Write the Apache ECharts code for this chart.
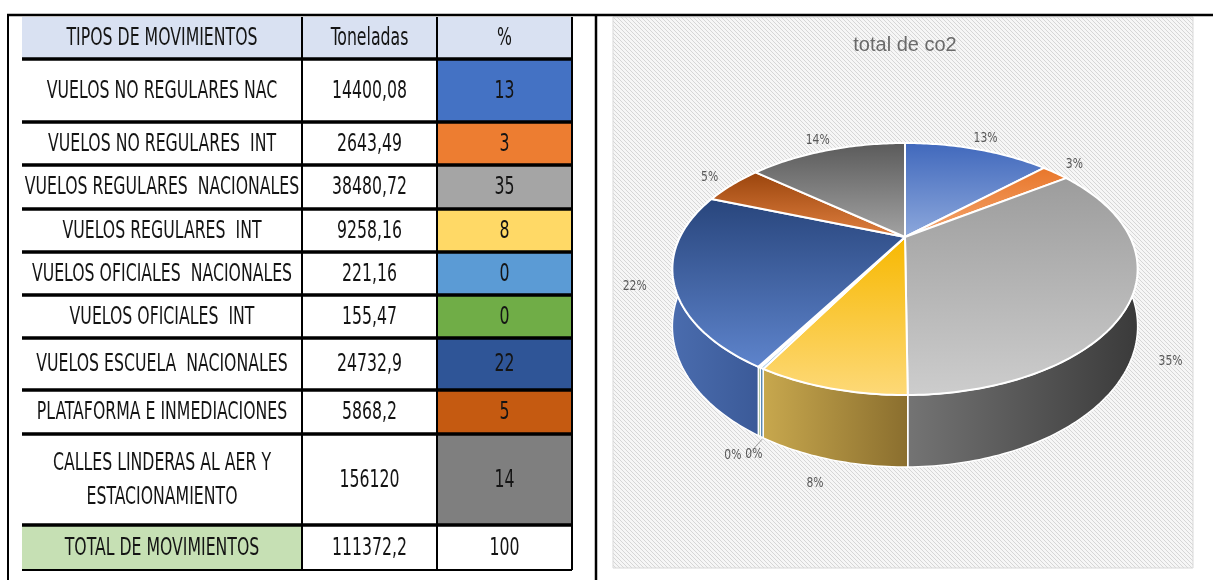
<!DOCTYPE html>
<html><head><meta charset="utf-8">
<script src="https://cdn.jsdelivr.net/npm/echarts@6/dist/echarts.min.js"></script>
<style>html,body{margin:0;padding:0;background:#fff}#c{width:1213px;height:580px}</style>
</head><body><div id="c"></div>
<script>
// ---------------- data ----------------
const headers = ['TIPOS DE MOVIMIENTOS', 'Toneladas', '%'];
const categories = [
  'VUELOS NO REGULARES NAC',
  'VUELOS NO REGULARES  INT',
  'VUELOS REGULARES  NACIONALES',
  'VUELOS REGULARES  INT',
  'VUELOS OFICIALES  NACIONALES',
  'VUELOS OFICIALES  INT',
  'VUELOS ESCUELA  NACIONALES',
  'PLATAFORMA E INMEDIACIONES',
  'CALLES LINDERAS AL AER Y\nESTACIONAMIENTO'
];
// tonnage as printed in the table
const tonnageText = ['14400,08', '2643,49', '38480,72', '9258,16', '221,16', '155,47', '24732,9', '5868,2', '156120'];
// tonnage values drawn in the pie (last one = 15612,0 so that the total is 111372,2 and the slice is 14%)
const tonnes = [14400.08, 2643.49, 38480.72, 9258.16, 221.16, 155.47, 24732.9, 5868.2, 15612.02];
// "%" column (also the pie labels)
const percents = [13, 3, 35, 8, 0, 0, 22, 5, 14];
const totalRow = ['TOTAL DE MOVIMIENTOS', '111372,2', '100'];
const chartTitle = 'total de co2';

// ---------------- styles / layout ----------------
const cellColors = ['#4472C4', '#ED7D31', '#A5A5A5', '#FFD966', '#5B9BD5', '#70AD47', '#2F5597', '#C55A11', '#7F7F7F'];
const faceGrad = [
  ['#4068BC', '#8DA8DC'], ['#E8762A', '#F4A56E'], ['#9C9C9C', '#CDCDCD'], ['#F7B800', '#FDD978'],
  ['#5B9BD5', '#8DBBE4'], ['#70AD47', '#9BC77E'], ['#28457C', '#5E84CC'], ['#9A440C', '#E08040'], ['#5A5A5A', '#A3A3A3']
];
const wallGrad = [
  ['#3A62A8', '#2E4E88'], ['#C8682A', '#A0521E'], ['#747474', '#3A3A3A'], ['#C8A84E', '#8A6E2E'],
  ['#4E86B8', '#3E6F9C'], ['#5E913C', '#4B7630'], ['#4A6CAE', '#3B5A98'], ['#8A3C0A', '#6E3008'], ['#505050', '#3A3A3A']
];
const NARROW = "'Liberation Sans Narrow','DejaVu Sans Condensed','Arial Narrow',sans-serif";
const TBL = { cols: [22, 302, 437, 572], rows: [17, 59, 122, 165, 209, 252, 295, 338, 390, 434, 525, 570] };
const PIE = { cx: 905, cy: 237, B: 225, A: 117.9, k: 0.254, depth: 53.7 };

const tableRows = [headers].concat(categories.map((c, i) => [c, tonnageText[i], String(percents[i])]), [totalRow]);

// ---------------- table ----------------
function renderTableRow(params, api) {
  const r = params.dataIndex, row = tableRows[r];
  const y0 = TBL.rows[r], y1 = TBL.rows[r + 1];
  const last = r === tableRows.length - 1;
  const children = [];
  for (let c = 0; c < 3; c++) {
    const x0 = TBL.cols[c], x1 = TBL.cols[c + 1];
    let fill = '#ffffff';
    if (r === 0) fill = '#D9E1F2';
    else if (last) fill = c === 0 ? '#C6E0B4' : '#ffffff';
    else if (c === 2) fill = cellColors[r - 1];
    children.push({ type: 'rect', shape: { x: x0, y: y0, width: x1 - x0, height: y1 - y0 }, style: { fill: fill }, z2: 1 });
    children.push({
      type: 'text', x: (x0 + x1) / 2, y: (y0 + y1) / 2 + 1, scaleX: 0.92, scaleY: 1.3, z2: 5,
      style: { text: row[c], fill: '#141414', fontSize: 19, fontFamily: NARROW, align: 'center', verticalAlign: 'middle', lineHeight: 26 }
    });
  }
  children.push({ type: 'line', shape: { x1: TBL.cols[0], y1: y1, x2: TBL.cols[3], y2: y1 }, style: { stroke: '#000', lineWidth: last ? 2 : 3.5 }, z2: 8 });
  for (let c = 1; c < 4; c++) {
    children.push({ type: 'line', shape: { x1: TBL.cols[c], y1: y0, x2: TBL.cols[c], y2: y1 }, style: { stroke: '#000', lineWidth: 2 }, z2: 7 });
  }
  return { type: 'group', children: children };
}

// ---------------- pseudo-3D pie ----------------
const total = tonnes.reduce((a, b) => a + b, 0);
const cum = []; { let acc = 0; tonnes.forEach(v => { cum.push(acc); acc += v; }); }
const ang = v => v / total * 2 * Math.PI;
function proj(t, r) {
  const u = r * Math.sin(t), v = -r * Math.cos(t), d = 1 - PIE.k * v;
  return { x: PIE.cx + PIE.B * u / d, y: PIE.cy + PIE.A * v / d, v: v, d: d };
}
function arcPts(t0, t1, drop) {
  const n = Math.max(2, Math.ceil((t1 - t0) / (Math.PI / 180)) + 1), pts = [];
  for (let i = 0; i < n; i++) {
    const p = proj(t0 + (t1 - t0) * i / (n - 1), 1);
    pts.push([p.x, p.y + (drop ? PIE.depth / p.d : 0)]);
  }
  return pts;
}
// label layout computed from the geometry
const labelPos = [];
tonnes.forEach((v, i) => {
  const tm = ang(cum[i] + v / 2);
  const p = proj(tm, 1.15);
  let y = p.y;
  if (p.v / 1.15 > 0.4) y += 0.85 * PIE.depth / p.d;
  let x = p.x, shifted = false;
  const w = (String(percents[i]).length + 1) * 8;
  for (const q of labelPos) {
    if (Math.abs(q.y - y) < 12 && Math.abs(q.x - x) < (q.w + w) / 2 + 4) { x = q.x + (q.w + w) / 2 + 5; shifted = true; }
  }
  labelPos.push({ x: x, y: y, w: w, shifted: shifted, edge: proj(tm, 1.0) });
});

function renderSlice(params, api) {
  const i = params.dataIndex;
  const t0 = ang(cum[i]), t1 = ang(cum[i] + tonnes[i]);
  const children = [];
  const apex = proj(0, 0);
  const face = [[apex.x, apex.y]].concat(arcPts(t0, t1, false));
  children.push({
    type: 'polygon', shape: { points: face }, z2: 10,
    style: { fill: { type: 'linear', x: 0, y: 0, x2: 0, y2: 1, colorStops: [{ offset: 0, color: faceGrad[i][0] }, { offset: 1, color: faceGrad[i][1] }] },
      stroke: '#ffffff', lineWidth: 2, lineJoin: 'round' }
  });
  const w0 = Math.max(t0, Math.PI / 2), w1 = Math.min(t1, 3 * Math.PI / 2);
  if (w1 > w0) {
    const wall = arcPts(w0, w1, false).concat(arcPts(w0, w1, true).reverse());
    children.push({
      type: 'polygon', shape: { points: wall }, z2: 3,
      style: { fill: { type: 'linear', x: 0, y: 0, x2: 1, y2: 0, colorStops: [{ offset: 0, color: wallGrad[i][0] }, { offset: 1, color: wallGrad[i][1] }] },
        stroke: '#ffffff', lineWidth: 1.5, lineJoin: 'round' }
    });
  }
  const L = labelPos[i];
  children.push({
    type: 'text', x: L.x, y: L.y, z2: 20, scaleY: 1.15,
    style: { text: percents[i] + '%', fill: '#595959', fontSize: 12, fontFamily: NARROW, align: 'center', verticalAlign: 'middle' }
  });
  if (L.shifted) {
    const e = L.edge;
    children.push({ type: 'polyline', z2: 19, shape: { points: [[L.x - L.w / 2, L.y + 3], [e.x + 3, e.y + PIE.depth / e.d + 3]] },
      style: { stroke: '#8c8c8c', lineWidth: 0.8, fill: null } });
  }
  return { type: 'group', children: children };
}

// hatch pattern for the chart area
const pat = document.createElement('canvas');
pat.width = 4; pat.height = 4;
const pctx = pat.getContext('2d');
pctx.fillStyle = '#F6F6F6'; pctx.fillRect(0, 0, 4, 4);
pctx.fillStyle = '#D6D6D6';
for (let i = 0; i < 4; i++) pctx.fillRect(i, i, 1, 1);

const chart = echarts.init(document.getElementById('c'), null, { renderer: 'canvas' });
chart.setOption({
  animation: false,
  backgroundColor: '#ffffff',
  title: {
    text: chartTitle, left: 905, top: 35, textAlign: 'center', padding: 0,
    textStyle: { color: '#6a6a6a', fontSize: 20, fontWeight: 'normal', fontFamily: "'Liberation Sans','Open Sans',sans-serif" }
  },
  graphic: [
    { type: 'rect', shape: { x: 613, y: 17, width: 580, height: 551 }, style: { fill: { image: pat, repeat: 'repeat' }, stroke: '#D9D9D9', lineWidth: 1 }, z: -10 },
    { type: 'line', shape: { x1: 7, y1: 15, x2: 1213, y2: 15 }, style: { stroke: '#000', lineWidth: 2.5 }, z: 10 },
    { type: 'line', shape: { x1: 8, y1: 15, x2: 8, y2: 580 }, style: { stroke: '#000', lineWidth: 2 }, z: 10 },
    { type: 'line', shape: { x1: 596, y1: 15, x2: 596, y2: 580 }, style: { stroke: '#000', lineWidth: 2.5 }, z: 10 }
  ],
  series: [
    { type: 'custom', name: 'tabla', coordinateSystem: 'none', silent: true, data: tableRows.map((r, i) => i), renderItem: renderTableRow },
    { type: 'custom', name: chartTitle, coordinateSystem: 'none', silent: true, data: tonnes, renderItem: renderSlice }
  ]
});
</script>
</body></html>
